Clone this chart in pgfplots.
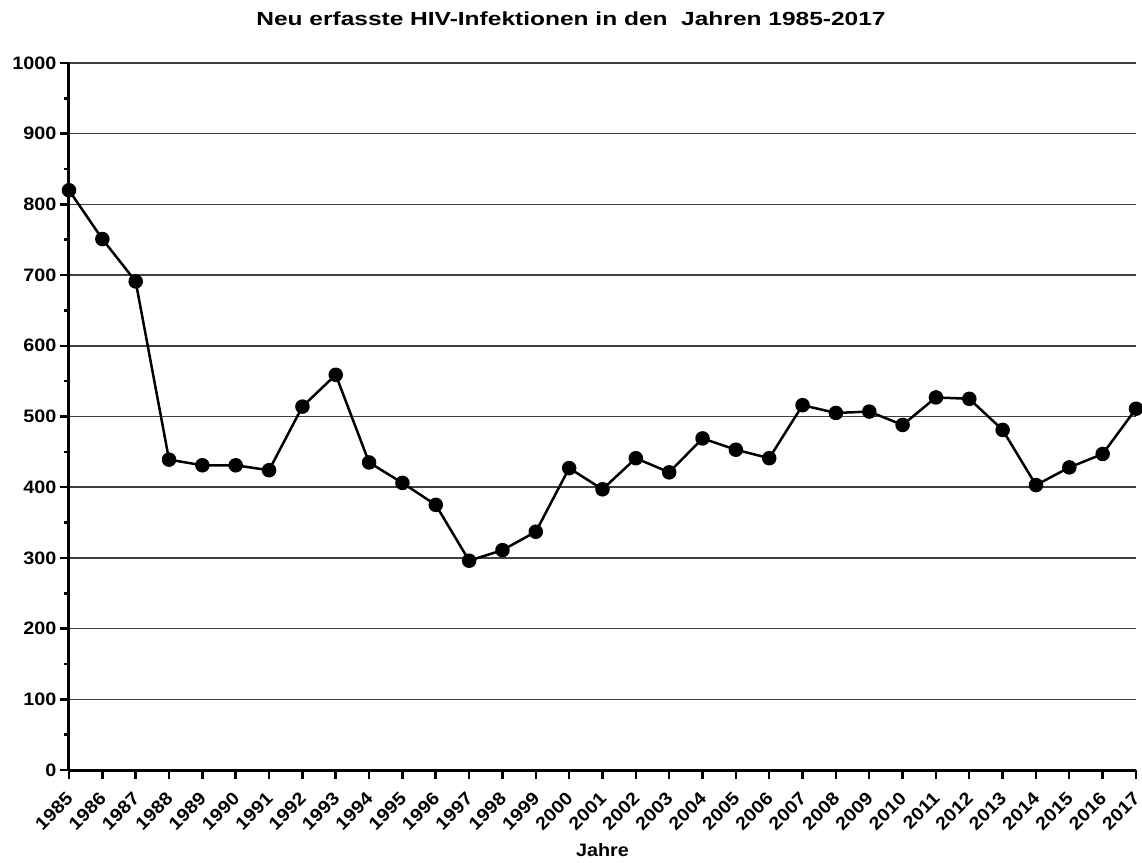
\documentclass[border=0pt]{standalone}
\usepackage{fontspec}
\setmainfont{Liberation Sans}[FakeStretch=1.1]
\newfontfamily\titlefont{Liberation Sans}[FakeStretch=1.29]
\usepackage{pgfplots}
\usepackage{pgfplotstable}
\pgfplotsset{compat=1.18}
\pgfplotstableread{
year value
1985 820
1986 751
1987 691
1988 439
1989 431
1990 431
1991 424
1992 514
1993 559
1994 435
1995 406
1996 375
1997 296
1998 311
1999 337
2000 427
2001 397
2002 441
2003 421
2004 469
2005 453
2006 441
2007 516
2008 505
2009 507
2010 488
2011 527
2012 525
2013 481
2014 403
2015 428
2016 447
2017 511
}\datatable
\begin{document}
\begin{tikzpicture}
\path[use as bounding box] (-69pt,-92pt) rectangle (1073pt,770pt);
\begin{axis}[
  at={(0,0)}, anchor=south west,
  width=1067pt, height=707pt, scale only axis,
  xmin=1985, xmax=2017, ymin=0, ymax=1000,
  xtick={1985,...,2017}, ytick={0,100,...,1000},
  minor y tick num=1,
  axis x line*=bottom, axis y line*=left,
  axis line style={-, line width=3pt, black},
  tick align=outside,
  major tick length=9pt, minor tick length=5pt,
  every tick/.style={black, line width=2.5pt},
  ymajorgrids,
  major grid style={line width=1.5pt, color=black!75},
  ticklabel style={font=\bfseries\fontsize{18}{18}\selectfont},
  /pgf/number format/assume math mode=true,
  /pgf/number format/1000 sep={},
  xticklabel style={yshift=-14pt, xshift=3pt, rotate=45, anchor=east},
  clip=false,
]
\addplot[black, line width=2.5pt, mark=*, mark size=6pt, mark options={solid, fill=black}] table[x=year, y=value] {\datatable};
\end{axis}
\node[anchor=base, font=\titlefont\bfseries\fontsize{19}{19}\selectfont] at (502pt,744pt) {Neu erfasste HIV-Infektionen in den~~Jahren 1985-2017};
\node[anchor=base, font=\bfseries\fontsize{18}{18}\selectfont] at (533.5pt,-86pt) {Jahre};
\end{tikzpicture}
\end{document}
